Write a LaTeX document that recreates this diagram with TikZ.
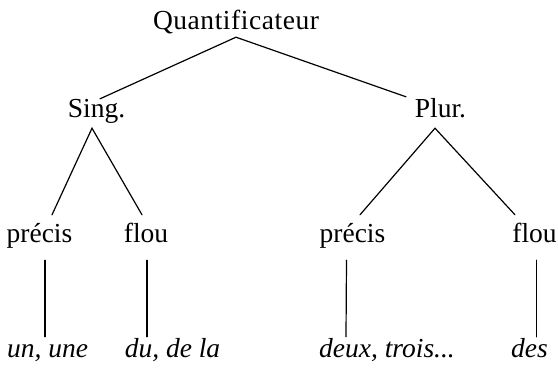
\documentclass[tikz,border=0pt]{standalone}
\usepackage{fontspec}
\setmainfont{Liberation Serif}
\begin{document}
\begin{tikzpicture}[x=1pt,y=1pt,
  lbl/.style={anchor=base,inner sep=0pt,text height=19pt,text depth=6pt,
    font=\fontsize{27.5}{33}\selectfont},
  ex/.style={lbl,font=\fontsize{27.5}{33}\selectfont\itshape},
  branch/.style={line width=1.2pt,line cap=round}]
\useasboundingbox (0,0) rectangle (558,-370);
% nodes
\node[lbl] (q) at (236,-29) {\addfontfeature{LetterSpace=2}Quantificateur};
\node[lbl] (sing) at (96.5,-117) {Sing.};
\node[lbl] (plur) at (440.5,-117) {Plur.};
\node[lbl] (p1) at (39.5,-242) {précis};
\node[lbl] (f1) at (146,-242) {flou};
\node[lbl] (p2) at (352.5,-242) {précis};
\node[lbl] (f2) at (534.5,-242) {flou};
\node[ex] (un) at (47.5,-357) {un, une};
\node[ex] (du) at (172.5,-357) {du, de la};
\node[ex] (deux) at (387,-357) {deux, trois...};
\node[ex] (des) at (529.5,-357) {des};
% connectors
\draw[branch] ([xshift=3.5pt,yshift=-1pt]sing.north) -- ([yshift=-2pt]q.south) -- ([xshift=-34.5pt,yshift=1pt]plur.north);
\draw[branch] ([xshift=12.5pt,yshift=8pt]p1.north) -- ([xshift=-4.5pt,yshift=-5pt]sing.south) -- ([xshift=-4pt,yshift=8pt]f1.north);
\draw[branch] ([xshift=7.5pt,yshift=8pt]p2.north) -- ([xshift=-5.5pt,yshift=-5pt]plur.south) -- ([xshift=-19.5pt,yshift=8pt]f2.north);
\draw[branch] ([xshift=5.5pt,yshift=-12pt]p1.south) -- ([xshift=-2.5pt,yshift=1pt]un.north);
\draw[branch] ([xshift=1pt,yshift=-12pt]f1.south) -- ([xshift=-25.5pt,yshift=1pt]du.north);
\draw[branch] ([xshift=-6pt,yshift=-12pt]p2.south) -- ([xshift=-41pt,yshift=1pt]deux.north);
\draw[branch] ([xshift=2pt,yshift=-12pt]f2.south) -- ([xshift=7pt,yshift=1pt]des.north);
\end{tikzpicture}
\end{document}
